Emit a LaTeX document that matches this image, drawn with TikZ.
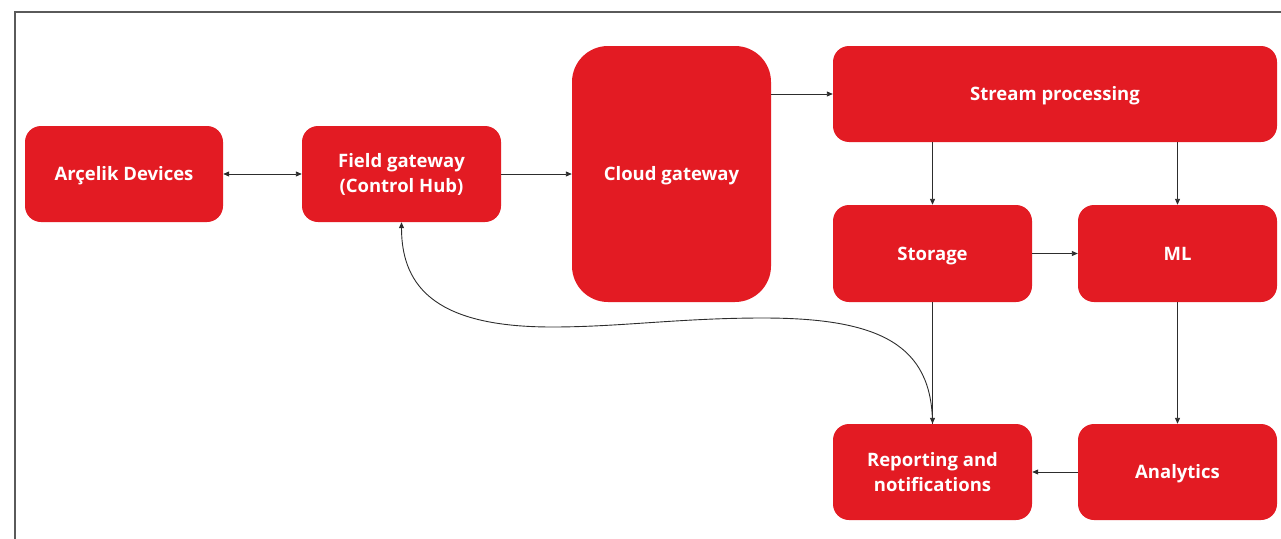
\documentclass[tikz,border=0pt]{standalone}
\usepackage{fontspec}
\setmainfont{Open Sans}
\usetikzlibrary{arrows.meta}
\definecolor{boxred}{RGB}{227,27,35}
\definecolor{lnk}{RGB}{45,45,45}
\definecolor{frm}{RGB}{90,90,90}
\tikzset{
  blk/.style={fill=boxred, draw=none, rounded corners=16pt, text=white,
    font=\bfseries\fontsize{18.5}{25}\selectfont, align=center, inner sep=0pt},
  oneline/.style={text height=13.3pt, text depth=0pt},
  conn/.style={draw=lnk, line width=0.9pt, -{Triangle[length=6pt,width=5pt]}},
}
\begin{document}
\begin{tikzpicture}[x=1pt,y=-1pt]
\useasboundingbox (0,0) rectangle (1281,538);
\draw[frm, line width=1.2pt] (15,540) -- (15,12) -- (1283,12);

\node[blk, oneline, minimum width=198pt, minimum height=96pt] (ard) at (124,174) {Arçelik Devices};
\node[blk, minimum width=199pt, minimum height=96pt] (fg) at (401.5,174) {Field gateway\\(Control Hub)};
\node[blk, oneline, minimum width=199pt, minimum height=256pt, rounded corners=36pt] (cg) at (671.5,174) {Cloud gateway};
\node[blk, oneline, minimum width=444pt, minimum height=96pt] (sp) at (1055,94) {Stream processing};
\node[blk, oneline, minimum width=199pt, minimum height=97pt] (st) at (932.5,253.5) {Storage};
\node[blk, oneline, minimum width=199pt, minimum height=97pt] (ml) at (1177.5,253.5) {ML};
\node[blk, minimum width=199pt, minimum height=96pt] (rep) at (932.5,472) {Reporting and\\notifications};
\node[blk, oneline, minimum width=199pt, minimum height=96pt] (an) at (1177.5,472) {Analytics};

\draw[conn, {Triangle[length=6pt,width=5pt]}-{Triangle[length=6pt,width=5pt]}] (ard) -- (fg);
\draw[conn] (fg) -- (cg);
\draw[conn] (cg.east |- sp.west) -- (sp.west);
\draw[conn] (sp.south -| st.north) -- (st.north);
\draw[conn] (sp.south -| ml.north) -- (ml.north);
\draw[conn] (st) -- (ml);
\draw[conn] (st) -- (rep);
\draw[conn] (ml) -- (an);
\draw[conn] (an) -- (rep);
\draw[conn] (rep.north) .. controls (932,345) and (880,318) .. (763,318)
  .. controls (680,318) and (620,327) .. (552,327)
  .. controls (440,327) and (401.5,290) .. (fg.south);
\end{tikzpicture}
\end{document}
